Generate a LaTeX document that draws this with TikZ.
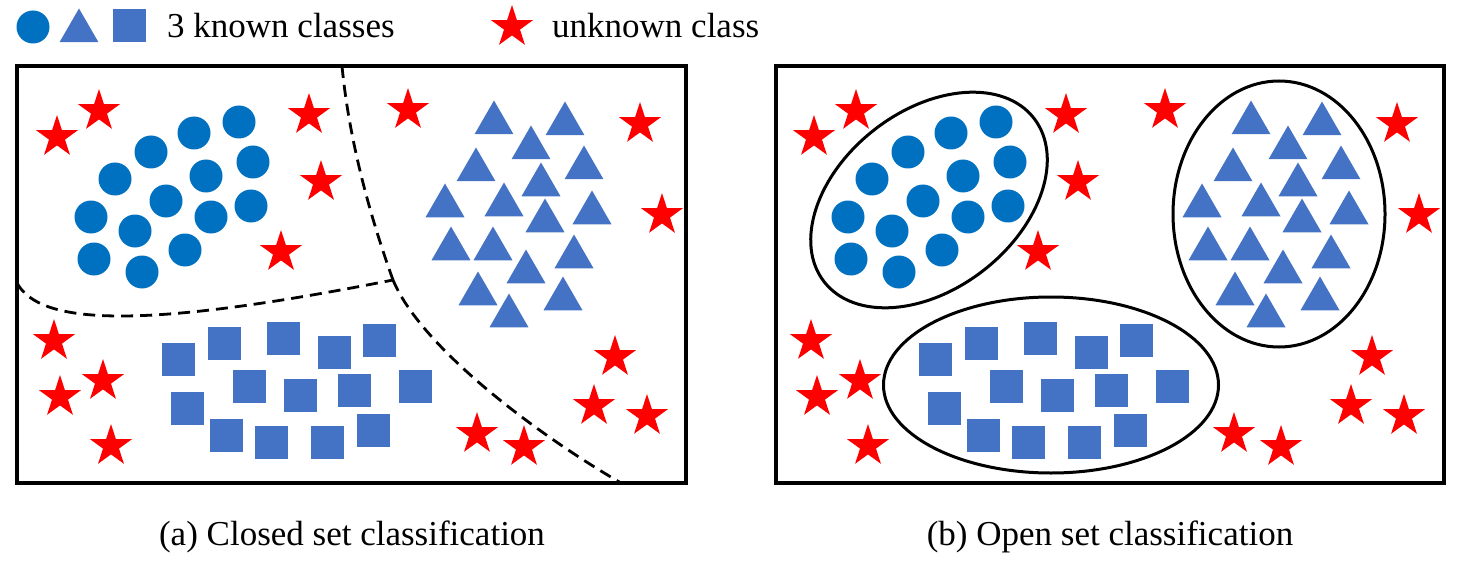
\documentclass[tikz,border=0pt]{standalone}
\usepackage{fontspec}
\setmainfont{Liberation Serif}
\usetikzlibrary{shapes.geometric}
\definecolor{dotblue}{HTML}{0070C0}
\definecolor{shapeblue}{HTML}{4472C4}
\definecolor{starred}{HTML}{FF0000}

\begin{document}
\begin{tikzpicture}
        [x=1pt,y=-1pt,
         dot/.style={circle,fill=dotblue,inner sep=0pt,minimum size=33pt},
         tri/.style={regular polygon,regular polygon sides=3,fill=shapeblue,inner sep=0pt,minimum size=45pt},
         sq/.style={rectangle,fill=shapeblue,inner sep=0pt,minimum size=33pt},
         unk/.style={star,star points=5,star point ratio=2.618,fill=starred,inner sep=0pt,minimum size=44pt},
         panel/.style={draw,line width=3.2pt},
         border/.style={draw,line width=2.8pt,dash pattern=on 12pt off 7pt},
         cluster/.style={draw,ellipse,line width=3pt,inner sep=0pt},
         captext/.style={font=\fontsize{35}{42}\selectfont,inner sep=0pt}]
        \useasboundingbox (0,0) rectangle (1463,564);

        % legend
        \node[dot] (kdot) at (33,27) {};
        \node[tri] (ktri) at (79,31) {};
        \node[sq] (ksq) at (129,26) {};
        \node[captext,anchor=base west] (known) at (167,38) {3 known classes};
        \node[unk] (kstar) at (512,27) {};
        \node[captext,anchor=base west] (unknown) at (552,38) {unknown class};

        % panels
        \draw[panel] (17,66) rectangle (686,483);
        \draw[panel] (776,66) rectangle (1444,483);

        % samples, same layout in both panels
        \foreach \dx/\p in {0/a,757/b} {
            \foreach \x/\y [count=\i] in {239/122,194/133,151/152,253/162,206/176,115/179,166/201,
                    251/206,211/217,91/217,135/231,185/250,94/259,142/272}
                \node[dot] (\p c\i) at (\x+\dx,\y) {};
            \foreach \x/\y [count=\i] in {494/123,565/124,531/148,476/170,584/168,541/185,445/206,
                    504/205,545/221,592/213,451/249,493/249,526/272,574/257,478/294,563/299,509/316}
                \node[tri] (\p t\i) at (\x+\dx,\y) {};
            \foreach \x/\y [count=\i] in {178/359,224/343,283/338,334/352,379/340,249/386,300/395,
                    354/390,415/386,187/408,226/435,271/442,327/442,373/430}
                \node[sq] (\p s\i) at (\x+\dx,\y) {};
            \foreach \x/\y [count=\i] in {57/137,99/111,309/115,321/182,281/252,408/110,640/124,
                    662/215,54/341,103/381,60/397,111/446,477/434,524/447,615/357,594/406,647/416}
                \node[unk] (\p u\i) at (\x+\dx,\y) {};
        }

        % closed set: decision borders
        \coordinate (junc) at (393,280);
        \coordinate (bleft) at (17,283);
        \coordinate (btop) at (342,66);
        \coordinate (bbot) at (621,483);
        \path[border] (bleft) .. controls (40,325) and (140,330) .. (junc);
        \path[border] (btop) .. controls (350,150) and (375,230) .. (junc);
        \path[border] (junc) .. controls (420,345) and (530,430) .. (bbot);

        % open set: one ellipse per known class
        \node[cluster,minimum width=266pt,minimum height=178pt,rotate=38] (ecirc) at (929,200) {};
        \node[cluster,minimum width=212pt,minimum height=266pt] (etri) at (1279,214) {};
        \node[cluster,minimum width=335pt,minimum height=176pt] (esq) at (1051,385) {};

        \node[captext,anchor=base] (capa) at (352,545) {(a) Closed set classification};
        \node[captext,anchor=base] (capb) at (1110,545) {(b) Open set classification};

    \end{tikzpicture}
\end{document}
